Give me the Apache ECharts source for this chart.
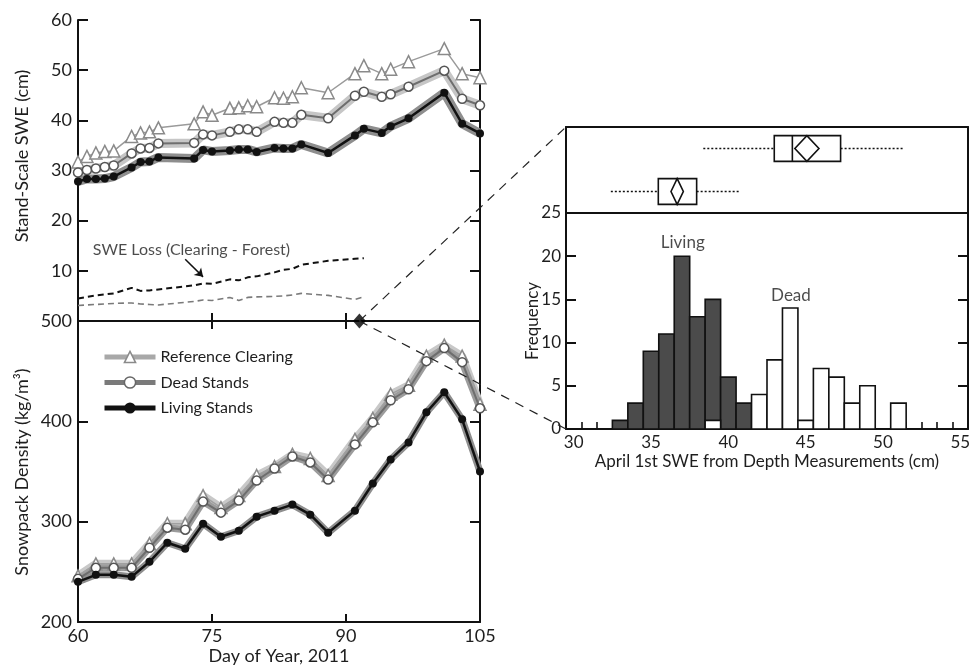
<!DOCTYPE html>
<html><head><meta charset="utf-8">
<script src="https://cdn.jsdelivr.net/npm/echarts@6/dist/echarts.min.js"></script>
<style>html,body{margin:0;background:#fff}#c{width:970px;height:667px}</style>
</head><body><div id="c"></div>
<script>
// ---- data ----
const sweDays = [60,61,62,63,64,66,67,68,69,73,74,75,77,78,79,80,82,83,84,85,88,91,92,94,95,97,101,103,105];
const sweReference = [31.7,32.8,33.5,33.8,33.9,36.8,37.5,37.7,38.5,39.3,41.7,41.0,42.4,42.5,42.9,42.7,44.5,44.4,44.7,46.5,45.5,49.3,50.9,49.3,50.2,51.7,54.3,49.3,48.5];
const sweDead = [29.6,30.1,30.4,30.7,31.0,33.4,34.4,34.5,35.4,35.5,37.2,37.0,37.7,38.2,38.2,37.7,39.7,39.5,39.5,41.1,40.4,44.9,45.7,44.7,45.2,46.7,49.9,44.3,43.0];
const sweLiving = [27.8,28.3,28.3,28.4,28.8,30.6,31.7,31.8,32.6,32.4,34.1,33.8,34.0,34.2,34.2,33.7,34.5,34.4,34.4,35.2,33.5,37.0,38.3,37.5,38.8,40.4,45.5,39.3,37.4];

const lossDays = [60,61,62,63,64,66,67,68,69,73,74,75,77,78,79,80,82,83,84,85,88,91,92];
const lossLiving = [4.5,4.8,5.1,5.3,5.5,6.6,6.0,6.1,6.3,7.1,7.5,7.4,8.3,8.1,8.7,8.9,9.7,10.2,10.4,11.2,12.0,12.4,12.5];
const lossDead = [3.1,3.2,3.3,3.4,3.5,3.6,3.4,3.3,3.2,3.9,4.2,4.1,4.7,4.1,4.7,4.8,4.9,5.0,5.2,5.5,5.1,4.3,4.8];

const densityDays = [60,62,64,66,68,70,72,74,76,78,80,82,84,86,88,91,93,95,97,99,101,103,105];
const densityReference = [246,258,258,258,278,298,298,326,314,326,346,355,367,363,346,382,403,427,436,465,476,465,417];
const densityDead = [243,254,254,254,274,294,292,320,309,321,341,353,365,359,342,377,399,421,432,460,473,459,413];
const densityLiving = [240,247,247,245,260,279,273,298,285,291,305,311,317,307,289,311,338,362,379,409,429,402,350];

const april1Day = 91.5;
const april1Density = 500;

const histBins = [33,34,35,36,37,38,39,40,41,42,43,44,45,46,47,48,49,50,51];
const histLiving = [1,3,9,11,20,13,15,6,3,0,0,0,0,0,0,0,0,0,0];
const histDead = [0,0,0,0,0,0,1,0,0,4,8,14,1,7,6,3,5,0,3];
const histTickLabels = [30,35,40,45,50,55];
const histBinEdges = [29.5,30.5,31.5,32.5,33.5,34.5,35.5,36.5,37.5,38.5,39.5,40.5,41.5,42.5,43.5,44.5,45.5,46.5,47.5,48.5,49.5,50.5,51.5,52.5,53.5,54.5,55.5];

const boxGroups = ['Living','Dead'];
// [min, q1, median, q3, max]
const boxLiving = [32.4,35.47,36.66,37.95,40.68];
const boxDead = [38.38,42.97,44.14,47.26,51.38];
const boxMeans = [36.69,45.08];
const boxMeanCI = [0.4,0.78];

const FONT = 'Lato';
const TXT = '#1e1e1e';
const zip = (xs, ys) => xs.map((x, i) => [x, ys[i]]);

const chart = echarts.init(document.getElementById('c'), null, {renderer:'canvas'});

const axLine = {show:true, lineStyle:{color:'#111', width:2}};
function xDay(grid, pos, labels, extra){
  return Object.assign({type:'value', gridIndex:grid, position:pos, min:60, max:105, interval:15,
    axisLine:axLine, splitLine:{show:false},
    axisTick:{show:true, inside:true, length:8, lineStyle:{color:'#111', width:2}},
    axisLabel:{show:labels, fontFamily:FONT, fontSize:18, color:TXT, margin:5}}, extra||{});
}
function yVal(grid, pos, min, max, interval, labels, fmt){
  return {type:'value', gridIndex:grid, position:pos, min, max, interval,
    axisLine:axLine, splitLine:{show:false},
    axisTick:{show:true, inside:true, length:10, lineStyle:{color:'#111', width:2}},
    axisLabel:{show:labels, fontFamily:FONT, fontSize:18, color:TXT, margin:6, formatter:fmt}};
}

function histRender(fill){
  return function(params, api){
    const c = api.value(1);
    if (!c) return null;
    const b = api.value(0);
    const p0 = api.coord([b - 0.5, c]);
    const p1 = api.coord([b + 0.5, 0]);
    return {type:'rect', shape:{x:p0[0], y:p0[1], width:p1[0]-p0[0], height:p1[1]-p0[1]},
      style:{fill:fill, stroke:'#111', lineWidth:1.6}};
  };
}

function boxRender(params, api){
  const row = api.value(0);
  const mn = api.value(1), q1 = api.value(2), md = api.value(3), q3 = api.value(4), mx = api.value(5);
  const mean = api.value(6), hw = api.value(7);
  const c = v => api.coord([v, row]);
  const h = api.size([0, 1])[1] * 0.6;
  const y = c(md)[1];
  const dot = {stroke:'#111', lineWidth:1.4, lineDash:[2,2]};
  const solid = {stroke:'#111', lineWidth:1.6, fill:null};
  return {type:'group', children:[
    {type:'line', shape:{x1:c(mn)[0], y1:y, x2:c(q1)[0], y2:y}, style:dot},
    {type:'line', shape:{x1:c(q3)[0], y1:y, x2:c(mx)[0], y2:y}, style:dot},
    {type:'rect', shape:{x:c(q1)[0], y:y-h/2, width:c(q3)[0]-c(q1)[0], height:h}, style:{stroke:'#111', lineWidth:1.6, fill:'#fff'}},
    {type:'line', shape:{x1:c(md)[0], y1:y-h/2, x2:c(md)[0], y2:y+h/2}, style:solid},
    {type:'polygon', shape:{points:[[c(mean-hw)[0], y],[c(mean)[0], y-h/2],[c(mean+hw)[0], y],[c(mean)[0], y+h/2]]}, style:{stroke:'#111', lineWidth:1.6, fill:'#fff'}}
  ]};
}

const option = {
  backgroundColor:'#fff',
  animation:false,
  textStyle:{fontFamily:FONT},
  grid:[
    {left:78, width:402, top:20, height:301, outerBoundsMode:'none'},
    {left:78, width:402, top:321, height:301, outerBoundsMode:'none'},
    {left:566, width:402, top:127, height:86, outerBoundsMode:'none'},
    {left:566, width:402, top:213, height:216, outerBoundsMode:'none'}
  ],
  xAxis:[
    xDay(0,'bottom',false),
    xDay(0,'top',false),
    xDay(1,'bottom',true,{name:'Day of Year, 2011', nameLocation:'middle', nameGap:25,
      nameTextStyle:{fontFamily:FONT, fontSize:18, color:TXT}}),
    xDay(1,'top',false),
    {type:'value', gridIndex:2, position:'bottom', min:29.5, max:55.5, axisLine:axLine, axisTick:{show:false}, axisLabel:{show:false}, splitLine:{show:false}},
    {type:'value', gridIndex:2, position:'top', min:29.5, max:55.5, axisLine:axLine, axisTick:{show:false}, axisLabel:{show:false}, splitLine:{show:false}},
    {type:'value', gridIndex:3, position:'bottom', min:29.5, max:55.5, axisLine:axLine, splitLine:{show:false},
      axisTick:{show:true, inside:true, length:7, customValues:histBinEdges, lineStyle:{color:'#111', width:1.6}},
      axisLabel:{show:true, customValues:histTickLabels, fontFamily:FONT, fontSize:17, color:TXT, margin:5},
      name:'April 1st SWE from Depth Measurements (cm)', nameLocation:'middle', nameGap:24,
      nameTextStyle:{fontFamily:FONT, fontSize:17, color:TXT}}
  ],
  yAxis:[
    yVal(0,'left',0,60,10,true, v => v === 0 ? '' : v),
    yVal(0,'right',0,60,10,false),
    yVal(1,'left',200,500,100,true),
    yVal(1,'right',200,500,100,false),
    {type:'category', gridIndex:2, position:'left', data:boxGroups, axisLine:axLine, axisTick:{show:false}, axisLabel:{show:false}},
    {type:'value', gridIndex:2, position:'right', min:0, max:1, axisLine:axLine, axisTick:{show:false}, axisLabel:{show:false}, splitLine:{show:false}},
    Object.assign(yVal(3,'left',0,25,5,true), {axisLabel:{show:true, fontFamily:FONT, fontSize:17, color:TXT, margin:5}}),
    yVal(3,'right',0,25,5,false)
  ],
  legend:{
    orient:'vertical', left:97, top:344, itemWidth:51, itemHeight:14, itemGap:9.5,
    selectedMode:false, textStyle:{fontFamily:FONT, fontSize:16, color:TXT, padding:[0,0,0,0]},
    data:[
      {name:'Reference Clearing', lineStyle:{color:'#a8a8a8', width:5}, itemStyle:{color:'#fff', borderColor:'#8a8a8a', borderWidth:1.5}},
      {name:'Dead Stands', lineStyle:{color:'#7a7a7a', width:5}, itemStyle:{color:'#fff', borderColor:'#666', borderWidth:1.5}},
      {name:'Living Stands', lineStyle:{color:'#111', width:5}, itemStyle:{color:'#111'}}
    ]
  },
  series:[
    // ---- SWE panel ----
    {type:'line', name:'band-dead-swe', xAxisIndex:0, yAxisIndex:0, data:zip(sweDays, sweDead), symbol:'none', silent:true, z:1,
      lineStyle:{color:'#c6c6c6', width:9}},
    {type:'line', name:'band-living-swe', xAxisIndex:0, yAxisIndex:0, data:zip(sweDays, sweLiving), symbol:'none', silent:true, z:1,
      lineStyle:{color:'#8e8e8e', width:9}},
    {type:'line', name:'Reference Clearing', xAxisIndex:0, yAxisIndex:0, data:zip(sweDays, sweReference), z:3,
      symbol:'triangle', symbolSize:12, lineStyle:{color:'#9a9a9a', width:1.5},
      itemStyle:{color:'#fff', borderColor:'#8a8a8a', borderWidth:1.5}},
    {type:'line', name:'Dead Stands', xAxisIndex:0, yAxisIndex:0, data:zip(sweDays, sweDead), z:4,
      symbol:'circle', symbolSize:9, lineStyle:{color:'#6e6e6e', width:2},
      itemStyle:{color:'#fff', borderColor:'#555', borderWidth:1.5}},
    {type:'line', name:'Living Stands', xAxisIndex:0, yAxisIndex:0, data:zip(sweDays, sweLiving), z:5,
      symbol:'circle', symbolSize:8, lineStyle:{color:'#111', width:2.5}, itemStyle:{color:'#111'}},
    {type:'line', name:'loss-living', xAxisIndex:0, yAxisIndex:0, data:zip(lossDays, lossLiving), symbol:'none', z:3,
      lineStyle:{color:'#111', width:2, type:[6,4]}},
    {type:'line', name:'loss-dead', xAxisIndex:0, yAxisIndex:0, data:zip(lossDays, lossDead), symbol:'none', z:3,
      lineStyle:{color:'#7a7a7a', width:1.6, type:[6,4]}},
    {type:'scatter', name:'loss-label', xAxisIndex:0, yAxisIndex:0, symbolSize:0, silent:true,
      data:[{value:[72.7, 14.1], name:'SWE Loss (Clearing - Forest)'}],
      label:{show:true, position:'inside', formatter:'{b}', fontFamily:FONT, fontSize:16, color:TXT},
      markLine:{silent:true, symbolSize:8, lineStyle:{color:'#111', width:1.5, type:'solid'}, label:{show:false},
        data:[[{coord:[72.0, 12.3], symbol:'none'}, {coord:[74.0, 8.8], symbol:'arrow'}]]}},
    // ---- Density panel ----
    {type:'line', name:'band-ref-den', xAxisIndex:2, yAxisIndex:2, data:zip(densityDays, densityReference), symbol:'none', silent:true, z:1,
      lineStyle:{color:'#c8c8c8', width:8}},
    {type:'line', name:'band-dead-den', xAxisIndex:2, yAxisIndex:2, data:zip(densityDays, densityDead), symbol:'none', silent:true, z:1,
      lineStyle:{color:'#9c9c9c', width:7}},
    {type:'line', name:'band-living-den', xAxisIndex:2, yAxisIndex:2, data:zip(densityDays, densityLiving), symbol:'none', silent:true, z:1,
      lineStyle:{color:'#8e8e8e', width:7}},
    {type:'line', name:'Reference Clearing', xAxisIndex:2, yAxisIndex:2, data:zip(densityDays, densityReference), z:3,
      symbol:'triangle', symbolSize:12, lineStyle:{color:'#a0a0a0', width:1.5},
      itemStyle:{color:'#fff', borderColor:'#8a8a8a', borderWidth:1.5}},
    {type:'line', name:'Dead Stands', xAxisIndex:2, yAxisIndex:2, data:zip(densityDays, densityDead), z:4,
      symbol:'circle', symbolSize:9, lineStyle:{color:'#6e6e6e', width:2},
      itemStyle:{color:'#fff', borderColor:'#555', borderWidth:1.5}},
    {type:'line', name:'Living Stands', xAxisIndex:2, yAxisIndex:2, data:zip(densityDays, densityLiving), z:5,
      symbol:'circle', symbolSize:8, lineStyle:{color:'#111', width:2.5}, itemStyle:{color:'#111'}},
    {type:'scatter', name:'april1', xAxisIndex:2, yAxisIndex:2, clip:false, z:10,
      data:[[april1Day, april1Density]], symbol:'diamond', symbolSize:[13,15], itemStyle:{color:'#000'}},
    // ---- Box plots ----
    {type:'custom', name:'box', xAxisIndex:4, yAxisIndex:4, renderItem:boxRender, clip:false,
      encode:{x:[1,2,3,4,5], y:0},
      data:[
        [0].concat(boxLiving, [boxMeans[0], boxMeanCI[0]]),
        [1].concat(boxDead, [boxMeans[1], boxMeanCI[1]])
      ]},
    // ---- Histogram ----
    {type:'custom', name:'hist-living', xAxisIndex:6, yAxisIndex:6, renderItem:histRender('#4b4b4b'), z:2,
      encode:{x:0, y:1}, data:zip(histBins, histLiving)},
    {type:'custom', name:'hist-dead', xAxisIndex:6, yAxisIndex:6, renderItem:histRender('#ffffff'), z:3,
      encode:{x:0, y:1}, data:zip(histBins, histDead)},
    {type:'scatter', name:'hist-labels', xAxisIndex:6, yAxisIndex:6, symbolSize:0, silent:true,
      data:[{value:[37.05, 21.6], name:'Living'}, {value:[44.05, 15.4], name:'Dead'}],
      label:{show:true, position:'inside', formatter:'{b}', fontFamily:FONT, fontSize:17, color:TXT}}
  ]
};
chart.setOption(option);

// connector lines from the April 1 marker to the right-hand panel corners
const d = chart.convertToPixel({xAxisIndex:2, yAxisIndex:2}, [april1Day, april1Density]);
const bl = chart.convertToPixel({xAxisIndex:6, yAxisIndex:6}, [29.5, 0]);
let tl;
try {
  const rect = chart.getModel().getComponent('grid', 2).coordinateSystem.getRect();
  tl = [rect.x, rect.y];
} catch (e) {
  const ht = chart.convertToPixel({xAxisIndex:6, yAxisIndex:6}, [29.5, 25]);
  tl = [ht[0], ht[1] - 86];
}
const dash = {stroke:'#222', lineWidth:1.2, lineDash:[9,7]};
chart.setOption({graphic:[
  {type:'line', z:100, shape:{x1:d[0], y1:d[1], x2:tl[0], y2:tl[1]}, style:dash, silent:true},
  {type:'line', z:100, shape:{x1:d[0], y1:d[1], x2:bl[0], y2:bl[1]}, style:dash, silent:true},
  {type:'text', z:100, x:22, y:156, rotation:Math.PI/2,
    style:{text:'Stand-Scale SWE (cm)', fontFamily:FONT, fontSize:18, fill:TXT, align:'center', verticalAlign:'middle'}},
  {type:'text', z:100, x:22, y:472, rotation:Math.PI/2,
    style:{text:'Snowpack Density (kg/m³)', fontFamily:FONT, fontSize:18, fill:TXT, align:'center', verticalAlign:'middle'}},
  {type:'text', z:100, x:533, y:321, rotation:Math.PI/2,
    style:{text:'Frequency', fontFamily:FONT, fontSize:17, fill:TXT, align:'center', verticalAlign:'middle'}}
]});
</script>
</body></html>
